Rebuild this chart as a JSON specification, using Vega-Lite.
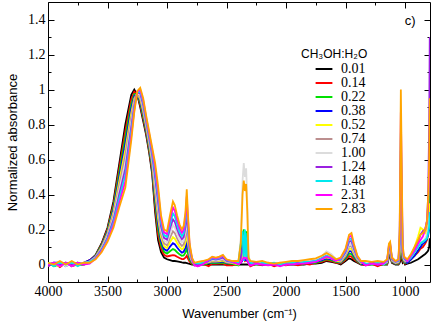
{
"$schema": "https://vega.github.io/schema/vega-lite/v6.json",
"width": 382, "height": 280,
"autosize": {"type": "none"},
"padding": {"left": 48, "top": 2, "right": 6, "bottom": 45},
"background": "white",
"title": {"text": "c)", "anchor": "end", "orient": "top", "offset": -26, "dx": -17, "font": "Liberation Sans", "fontSize": 13, "fontWeight": "normal", "color": "black"},
"data": {"values": [
{"w":4000,"a":0,"b":-0.01,"c":0.01,"d":0,"e":0.01,"f":0,"g":0.01,"h":-0.01,"i":0.01,"j":0,"k":0.01},
{"w":3950,"a":0,"b":0.01,"c":-0.01,"d":0.01,"e":0,"f":0.01,"g":0,"h":0.01,"i":-0.01,"j":0.01,"k":0},
{"w":3900,"a":0,"b":-0.015,"c":0,"d":0.01,"e":-0.01,"f":0,"g":0.01,"h":0,"i":0.01,"j":-0.01,"k":0.02},
{"w":3850,"a":0,"b":0.01,"c":0.01,"d":-0.01,"e":0.01,"f":0.01,"g":-0.01,"h":0.01,"i":0,"j":0.01,"k":0},
{"w":3800,"a":0,"b":-0.01,"c":0,"d":0.01,"e":0,"f":-0.01,"g":0.01,"h":0,"i":0.01,"j":-0.01,"k":0.02},
{"w":3750,"a":0,"b":0,"c":0.01,"d":0,"e":0.01,"f":0.01,"g":0,"h":0.01,"i":-0.01,"j":0.01,"k":0},
{"w":3700,"a":0,"b":0.01,"c":0,"d":0.01,"e":0,"f":0,"g":0.01,"h":0,"i":0.01,"j":0,"k":0.01},
{"w":3650,"a":0.02,"b":0.025,"c":0.02,"d":0.025,"e":0.015,"f":0.02,"g":0.015,"h":0.01,"i":0.015,"j":0.005,"k":0.01},
{"w":3600,"a":0.055,"b":0.052,"c":0.05,"d":0.048,"e":0.045,"f":0.043,"g":0.04,"h":0.038,"i":0.035,"j":0.033,"k":0.03},
{"w":3550,"a":0.12,"b":0.115,"c":0.11,"d":0.105,"e":0.1,"f":0.095,"g":0.09,"h":0.085,"i":0.08,"j":0.075,"k":0.07},
{"w":3500,"a":0.21,"b":0.202,"c":0.194,"d":0.186,"e":0.178,"f":0.17,"g":0.162,"h":0.154,"i":0.146,"j":0.138,"k":0.13},
{"w":3450,"a":0.36,"b":0.345,"c":0.33,"d":0.315,"e":0.3,"f":0.285,"g":0.27,"h":0.255,"i":0.24,"j":0.225,"k":0.21},
{"w":3400,"a":0.58,"b":0.555,"c":0.53,"d":0.505,"e":0.48,"f":0.455,"g":0.43,"h":0.405,"i":0.38,"j":0.355,"k":0.33},
{"w":3350,"a":0.8,"b":0.764,"c":0.728,"d":0.692,"e":0.656,"f":0.62,"g":0.584,"h":0.548,"i":0.512,"j":0.476,"k":0.44},
{"w":3300,"a":0.97,"b":0.944,"c":0.918,"d":0.892,"e":0.866,"f":0.84,"g":0.814,"h":0.788,"i":0.762,"j":0.736,"k":0.71},
{"w":3275,"a":1.0,"b":0.987,"c":0.974,"d":0.961,"e":0.948,"f":0.935,"g":0.922,"h":0.909,"i":0.896,"j":0.883,"k":0.87},
{"w":3250,"a":0.97,"b":0.972,"c":0.974,"d":0.976,"e":0.978,"f":0.98,"g":0.982,"h":0.984,"i":0.986,"j":0.988,"k":0.99},
{"w":3225,"a":0.9,"b":0.911,"c":0.922,"d":0.933,"e":0.944,"f":0.955,"g":0.966,"h":0.977,"i":0.988,"j":0.999,"k":1.01},
{"w":3200,"a":0.82,"b":0.833,"c":0.846,"d":0.859,"e":0.872,"f":0.885,"g":0.898,"h":0.911,"i":0.924,"j":0.937,"k":0.95},
{"w":3175,"a":0.74,"b":0.751,"c":0.762,"d":0.773,"e":0.784,"f":0.795,"g":0.806,"h":0.817,"i":0.828,"j":0.839,"k":0.85},
{"w":3150,"a":0.64,"b":0.652,"c":0.664,"d":0.676,"e":0.688,"f":0.7,"g":0.712,"h":0.724,"i":0.736,"j":0.748,"k":0.76},
{"w":3125,"a":0.52,"b":0.535,"c":0.55,"d":0.565,"e":0.58,"f":0.595,"g":0.61,"h":0.625,"i":0.64,"j":0.655,"k":0.67},
{"w":3100,"a":0.3,"b":0.328,"c":0.356,"d":0.384,"e":0.412,"f":0.44,"g":0.468,"h":0.496,"i":0.524,"j":0.552,"k":0.58},
{"w":3075,"a":0.14,"b":0.171,"c":0.202,"d":0.233,"e":0.264,"f":0.295,"g":0.326,"h":0.357,"i":0.388,"j":0.419,"k":0.45},
{"w":3050,"a":0.07,"b":0.091,"c":0.112,"d":0.133,"e":0.154,"f":0.175,"g":0.196,"h":0.217,"i":0.238,"j":0.259,"k":0.28},
{"w":3025,"a":0.04,"b":0.056,"c":0.072,"d":0.088,"e":0.104,"f":0.12,"g":0.136,"h":0.152,"i":0.168,"j":0.184,"k":0.2},
{"w":3000,"a":0.03,"b":0.046,"c":0.062,"d":0.078,"e":0.094,"f":0.11,"g":0.126,"h":0.142,"i":0.158,"j":0.174,"k":0.19},
{"w":2975,"a":0.025,"b":0.05,"c":0.076,"d":0.102,"e":0.127,"f":0.152,"g":0.178,"h":0.204,"i":0.229,"j":0.254,"k":0.28},
{"w":2950,"a":0.02,"b":0.054,"c":0.088,"d":0.122,"e":0.156,"f":0.19,"g":0.224,"h":0.258,"i":0.292,"j":0.326,"k":0.36},
{"w":2935,"a":0.02,"b":0.052,"c":0.084,"d":0.116,"e":0.148,"f":0.18,"g":0.212,"h":0.244,"i":0.276,"j":0.308,"k":0.34},
{"w":2915,"a":0.018,"b":0.044,"c":0.07,"d":0.097,"e":0.123,"f":0.149,"g":0.175,"h":0.201,"i":0.228,"j":0.254,"k":0.28},
{"w":2895,"a":0.015,"b":0.037,"c":0.058,"d":0.08,"e":0.101,"f":0.123,"g":0.144,"h":0.166,"i":0.187,"j":0.209,"k":0.23},
{"w":2875,"a":0.012,"b":0.031,"c":0.05,"d":0.068,"e":0.087,"f":0.106,"g":0.125,"h":0.144,"i":0.162,"j":0.181,"k":0.2},
{"w":2860,"a":0.01,"b":0.031,"c":0.052,"d":0.073,"e":0.094,"f":0.115,"g":0.136,"h":0.157,"i":0.178,"j":0.199,"k":0.22},
{"w":2845,"a":0.01,"b":0.039,"c":0.068,"d":0.097,"e":0.126,"f":0.155,"g":0.184,"h":0.213,"i":0.242,"j":0.271,"k":0.3},
{"w":2834,"a":0.008,"b":0.05,"c":0.092,"d":0.135,"e":0.177,"f":0.219,"g":0.261,"h":0.303,"i":0.346,"j":0.388,"k":0.43},
{"w":2825,"a":0.006,"b":0.035,"c":0.065,"d":0.094,"e":0.124,"f":0.153,"g":0.182,"h":0.212,"i":0.241,"j":0.271,"k":0.3},
{"w":2810,"a":0.004,"b":0.016,"c":0.027,"d":0.039,"e":0.05,"f":0.062,"g":0.074,"h":0.085,"i":0.097,"j":0.108,"k":0.12},
{"w":2790,"a":0,"b":0.004,"c":0.008,"d":0.012,"e":0.016,"f":0.02,"g":0.024,"h":0.028,"i":0.032,"j":0.036,"k":0.04},
{"w":2770,"a":0,"b":0.005,"c":-0.005,"d":0.01,"e":0,"f":0.005,"g":0.01,"h":0,"i":0.01,"j":-0.005,"k":0.01},
{"w":2740,"a":0,"b":-0.01,"c":0.01,"d":0,"e":0.01,"f":0.005,"g":0.01,"h":0,"i":0.005,"j":-0.01,"k":0.015},
{"w":2700,"a":0,"b":0.005,"c":0,"d":0.005,"e":0.005,"f":0.01,"g":0.015,"h":0.005,"i":0.01,"j":0,"k":0.02},
{"w":2650,"a":0,"b":-0.01,"c":0.006,"d":0.009,"e":0.012,"f":0.015,"g":0.018,"h":0.021,"i":0.024,"j":0.027,"k":0.03},
{"w":2620,"a":0,"b":0.005,"c":0.009,"d":0.014,"e":0.018,"f":0.023,"g":0.027,"h":0.032,"i":0.036,"j":0.041,"k":0.045},
{"w":2590,"a":0,"b":0.004,"c":0.008,"d":0.012,"e":0.016,"f":0.02,"g":0.024,"h":0.028,"i":0.032,"j":0.036,"k":0.04},
{"w":2560,"a":0,"b":0.005,"c":0.009,"d":0.014,"e":0.018,"f":0.023,"g":0.027,"h":0.032,"i":0.036,"j":0.041,"k":0.045},
{"w":2530,"a":0,"b":0.006,"c":0.011,"d":0.017,"e":0.022,"f":0.028,"g":0.033,"h":0.039,"i":0.05,"j":0.05,"k":0.055},
{"w":2500,"a":0,"b":-0.005,"c":0.006,"d":0.009,"e":0.012,"f":0.015,"g":0.018,"h":0.021,"i":0.024,"j":0.027,"k":0.03},
{"w":2450,"a":0,"b":-0.005,"c":0.004,"d":0.006,"e":0.008,"f":0.01,"g":0.012,"h":0.014,"i":0.016,"j":0.018,"k":0.02},
{"w":2400,"a":0,"b":0.005,"c":-0.005,"d":0.01,"e":0,"f":0.01,"g":0.015,"h":0.005,"i":0.01,"j":0,"k":0.02},
{"w":2380,"a":0,"b":0.01,"c":0.05,"d":0.01,"e":0.02,"f":0.03,"g":0.15,"h":0.04,"i":0.12,"j":0.01,"k":0.12},
{"w":2365,"a":0,"b":0.025,"c":0.16,"d":0.025,"e":0.05,"f":0.08,"g":0.48,"h":0.1,"i":0.19,"j":0.03,"k":0.4},
{"w":2355,"a":0,"b":0.03,"c":0.2,"d":0.03,"e":0.06,"f":0.1,"g":0.58,"h":0.12,"i":0.02,"j":0.04,"k":0.48},
{"w":2345,"a":0,"b":0.02,"c":0.17,"d":0.025,"e":0.05,"f":0.085,"g":0.5,"h":0.1,"i":0.2,"j":0.035,"k":0.42},
{"w":2335,"a":0,"b":0.028,"c":0.19,"d":0.028,"e":0.055,"f":0.095,"g":0.55,"h":0.11,"i":0.03,"j":0.038,"k":0.46},
{"w":2325,"a":0,"b":0.02,"c":0.12,"d":0.02,"e":0.035,"f":0.06,"g":0.35,"h":0.07,"i":0.18,"j":0.025,"k":0.3},
{"w":2315,"a":0,"b":0.01,"c":0.02,"d":0.01,"e":0.01,"f":0.01,"g":0.05,"h":0.01,"i":0.02,"j":0.005,"k":0.04},
{"w":2300,"a":0,"b":-0.01,"c":0.005,"d":0.005,"e":0.01,"f":0,"g":0.01,"h":0.005,"i":0.01,"j":-0.005,"k":0.02},
{"w":2250,"a":0,"b":0.005,"c":0,"d":0.01,"e":0,"f":0.01,"g":0.005,"h":0.01,"i":0,"j":0.005,"k":0.015},
{"w":2200,"a":0,"b":-0.005,"c":0.01,"d":0,"e":0.01,"f":0.005,"g":0.01,"h":0,"i":0.01,"j":0,"k":0.02},
{"w":2150,"a":0,"b":0.005,"c":0,"d":0.005,"e":0,"f":0.01,"g":0,"h":0.005,"i":0.005,"j":-0.005,"k":0.01},
{"w":2100,"a":0,"b":-0.01,"c":0.005,"d":0,"e":0.005,"f":0,"g":0.005,"h":0,"i":0.01,"j":0,"k":0.005},
{"w":2050,"a":0,"b":0,"c":-0.005,"d":0.005,"e":0,"f":0.005,"g":0.01,"h":0,"i":0,"j":-0.01,"k":0.01},
{"w":2000,"a":0,"b":-0.005,"c":0.005,"d":0,"e":0.01,"f":0.005,"g":0,"h":0.005,"i":0.01,"j":0,"k":0.015},
{"w":1950,"a":0,"b":0.005,"c":0,"d":0.01,"e":0.005,"f":0.01,"g":0.01,"h":0.005,"i":0.01,"j":0,"k":0.02},
{"w":1900,"a":0,"b":-0.005,"c":0.01,"d":0.005,"e":0.01,"f":0.01,"g":0.015,"h":0.01,"i":0.005,"j":0.005,"k":0.02},
{"w":1850,"a":0,"b":0.005,"c":0.005,"d":0.01,"e":0.01,"f":0.015,"g":0.015,"h":0.01,"i":0.015,"j":0.005,"k":0.025},
{"w":1800,"a":0.005,"b":0,"c":0.01,"d":0.01,"e":0.015,"f":0.02,"g":0.02,"h":0.015,"i":0.015,"j":0.01,"k":0.03},
{"w":1750,"a":0.005,"b":0.01,"c":0.01,"d":0.015,"e":0.02,"f":0.025,"g":0.025,"h":0.02,"i":0.02,"j":0.015,"k":0.035},
{"w":1700,"a":0.01,"b":0.015,"c":0.02,"d":0.025,"e":0.03,"f":0.045,"g":0.045,"h":0.035,"i":0.035,"j":0.03,"k":0.05},
{"w":1660,"a":0.02,"b":0.025,"c":0.03,"d":0.035,"e":0.04,"f":0.07,"g":0.075,"h":0.05,"i":0.05,"j":0.045,"k":0.065},
{"w":1620,"a":0.015,"b":0.02,"c":0.025,"d":0.03,"e":0.035,"f":0.055,"g":0.06,"h":0.04,"i":0.04,"j":0.035,"k":0.05},
{"w":1580,"a":0.01,"b":0.01,"c":0.015,"d":0.02,"e":0.02,"f":0.03,"g":0.03,"h":0.025,"i":0.025,"j":0.02,"k":0.03},
{"w":1540,"a":0,"b":0.005,"c":0.01,"d":0.012,"e":0.016,"f":0.02,"g":0.024,"h":0.028,"i":0.032,"j":0.036,"k":0.04},
{"w":1500,"a":0.02,"b":0.027,"c":0.034,"d":0.041,"e":0.048,"f":0.055,"g":0.062,"h":0.069,"i":0.076,"j":0.083,"k":0.09},
{"w":1470,"a":0.035,"b":0.049,"c":0.062,"d":0.076,"e":0.089,"f":0.103,"g":0.116,"h":0.13,"i":0.143,"j":0.157,"k":0.17},
{"w":1450,"a":0.03,"b":0.045,"c":0.06,"d":0.075,"e":0.09,"f":0.105,"g":0.12,"h":0.135,"i":0.15,"j":0.165,"k":0.18},
{"w":1430,"a":0.02,"b":0.03,"c":0.04,"d":0.05,"e":0.06,"f":0.07,"g":0.08,"h":0.09,"i":0.1,"j":0.11,"k":0.12},
{"w":1400,"a":0.01,"b":0.014,"c":0.018,"d":0.022,"e":0.026,"f":0.03,"g":0.034,"h":0.038,"i":0.042,"j":0.046,"k":0.05},
{"w":1370,"a":0,"b":0.002,"c":0.004,"d":0.006,"e":0.008,"f":0.01,"g":0.012,"h":0.014,"i":0.016,"j":0.018,"k":0.02},
{"w":1330,"a":0,"b":-0.005,"c":0.005,"d":0,"e":0.01,"f":0.005,"g":0.01,"h":0,"i":0.005,"j":-0.005,"k":0.02},
{"w":1280,"a":0,"b":0.005,"c":0,"d":0.01,"e":0,"f":0.01,"g":0.005,"h":0.01,"i":0,"j":0.005,"k":0.015},
{"w":1230,"a":0,"b":-0.01,"c":0.005,"d":0,"e":0.005,"f":0,"g":0.01,"h":0.005,"i":0.01,"j":0,"k":0.02},
{"w":1180,"a":0,"b":0.005,"c":0,"d":0.005,"e":0.01,"f":0.005,"g":0,"h":0.01,"i":0,"j":0.005,"k":0.015},
{"w":1150,"a":0,"b":0.003,"c":0.006,"d":0.009,"e":0.012,"f":0.015,"g":0.018,"h":0.021,"i":0.024,"j":0.027,"k":0.03},
{"w":1135,"a":0.04,"b":0.048,"c":0.056,"d":0.064,"e":0.072,"f":0.08,"g":0.088,"h":0.096,"i":0.104,"j":0.112,"k":0.12},
{"w":1125,"a":0.05,"b":0.058,"c":0.066,"d":0.074,"e":0.082,"f":0.09,"g":0.098,"h":0.106,"i":0.114,"j":0.122,"k":0.13},
{"w":1110,"a":0.01,"b":0.013,"c":0.016,"d":0.019,"e":0.022,"f":0.025,"g":0.028,"h":0.031,"i":0.034,"j":0.037,"k":0.04},
{"w":1080,"a":0,"b":0.002,"c":0.004,"d":0.006,"e":0.008,"f":0.01,"g":0.012,"h":0.014,"i":0.016,"j":0.018,"k":0.02},
{"w":1055,"a":0,"b":0.003,"c":0.006,"d":0.009,"e":0.012,"f":0.015,"g":0.018,"h":0.021,"i":0.024,"j":0.027,"k":0.03},
{"w":1045,"a":0.01,"b":0.02,"c":0.03,"d":0.05,"e":0.06,"f":0.08,"g":0.1,"h":0.12,"i":0.14,"j":0.17,"k":0.2},
{"w":1035,"a":0.03,"b":0.08,"c":0.14,"d":0.26,"e":0.35,"f":0.45,"g":0.55,"h":0.65,"i":0.75,"j":0.87,"k":1.0},
{"w":1028,"a":0.03,"b":0.05,"c":0.09,"d":0.16,"e":0.21,"f":0.27,"g":0.33,"h":0.39,"i":0.45,"j":0.52,"k":0.6},
{"w":1020,"a":0.01,"b":0.02,"c":0.03,"d":0.04,"e":0.05,"f":0.06,"g":0.07,"h":0.08,"i":0.09,"j":0.1,"k":0.12},
{"w":1010,"a":0.02,"b":0.01,"c":0.015,"d":0.02,"e":0.025,"f":0.03,"g":0.035,"h":0.04,"i":0.04,"j":0.045,"k":0.05},
{"w":1000,"a":0,"b":0.004,"c":0.008,"d":0.012,"e":0.016,"f":0.02,"g":0.024,"h":0.028,"i":0.032,"j":0.036,"k":0.04},
{"w":980,"a":0.005,"b":0.01,"c":0.01,"d":0.01,"e":0.02,"f":0.02,"g":0.02,"h":0.02,"i":0.02,"j":0.02,"k":0.03},
{"w":950,"a":0.01,"b":0.03,"c":0.03,"d":0.03,"e":0.05,"f":0.04,"g":0.04,"h":0.05,"i":0.04,"j":0.05,"k":0.06},
{"w":920,"a":0.02,"b":0.05,"c":0.05,"d":0.05,"e":0.1,"f":0.07,"g":0.07,"h":0.09,"i":0.07,"j":0.08,"k":0.1},
{"w":890,"a":0.03,"b":0.07,"c":0.08,"d":0.08,"e":0.16,"f":0.1,"g":0.1,"h":0.13,"i":0.1,"j":0.12,"k":0.14},
{"w":870,"a":0.04,"b":0.09,"c":0.1,"d":0.1,"e":0.21,"f":0.12,"g":0.12,"h":0.17,"i":0.12,"j":0.14,"k":0.17},
{"w":850,"a":0.05,"b":0.1,"c":0.12,"d":0.12,"e":0.2,"f":0.13,"g":0.13,"h":0.19,"i":0.13,"j":0.16,"k":0.18},
{"w":830,"a":0.06,"b":0.12,"c":0.13,"d":0.13,"e":0.18,"f":0.14,"g":0.15,"h":0.2,"i":0.14,"j":0.2,"k":0.2},
{"w":815,"a":0.07,"b":0.14,"c":0.15,"d":0.15,"e":0.2,"f":0.16,"g":0.17,"h":0.25,"i":0.15,"j":0.25,"k":0.25},
{"w":805,"a":0.08,"b":0.18,"c":0.2,"d":0.17,"e":0.22,"f":0.2,"g":0.2,"h":0.4,"i":0.18,"j":0.35,"k":0.4},
{"w":797,"a":0.1,"b":0.3,"c":0.3,"d":0.2,"e":0.28,"f":0.25,"g":0.25,"h":0.8,"i":0.22,"j":0.5,"k":0.6},
{"w":792,"a":0.15,"b":0.55,"c":0.47,"d":0.25,"e":0.35,"f":0.3,"g":0.3,"h":1.3,"i":0.3,"j":0.6,"k":0.95}
]},
"transform": [{"fold": ["a","b","c","d","e","f","g","h","i","j","k"], "as": ["s","A"]}],
"layer": [
{"mark": {"type": "line", "strokeWidth": 1.8, "clip": true},
 "encoding": {
  "x": {"field": "w", "type": "quantitative", "scale": {"domain": [4000, 790], "nice": false, "zero": false},
   "axis": {"orient": "bottom", "title": "Wavenumber (cm⁻¹)", "values": [4000,3750,3500,3250,3000,2750,2500,2250,2000,1750,1500,1250,1000],
    "labelExpr": "datum.value % 500 === 0 ? '' + datum.value : ''", "labelFlush": false, "labelOverlap": false,
    "tickSize": {"condition": {"test": "datum.value % 500 === 0", "value": -6}, "value": -3},
    "labelPadding": 8, "titlePadding": 6}},
  "y": {"field": "A", "type": "quantitative", "scale": {"domain": [-0.1, 1.5], "nice": false, "zero": false},
   "axis": {"orient": "left", "title": "Normalized absorbance", "values": [0,0.1,0.2,0.3,0.4,0.5,0.6,0.7,0.8,0.9,1,1.1,1.2,1.3,1.4],
    "labelExpr": "round(datum.value * 10) % 2 === 0 ? '' + datum.value : ''", "labelOverlap": false,
    "tickSize": {"condition": {"test": "round(datum.value * 10) % 2 === 0", "value": -6}, "value": -3},
    "labelPadding": 9, "titlePadding": 8}},
  "color": {"field": "s", "type": "nominal",
   "scale": {"domain": ["a","b","c","d","e","f","g","h","i","j","k"],
    "range": ["#000000","#ff0000","#00e000","#0000ff","#ffff00","#bc8f8f","#dcdcdc","#9a20e0","#00e8ee","#ff00ff","#ffa500"]},
   "legend": {"title": "CH₃OH:H₂O", "orient": "none", "legendX": 253, "legendY": 47,
    "labelExpr": "{'a':'0.01','b':'0.14','c':'0.22','d':'0.38','e':'0.52','f':'0.74','g':'1.00','h':'1.24','i':'1.48','j':'2.31','k':'2.83'}[datum.value]",
    "symbolType": "M-1.4,0H1.4", "symbolSize": 144, "symbolStrokeWidth": 2, "symbolOffset": 16, "labelOffset": 10}}
 }},
{"mark": {"type": "point", "opacity": 0},
 "encoding": {
  "x": {"field": "w", "type": "quantitative", "scale": {"domain": [4000, 790], "nice": false, "zero": false},
   "axis": {"orient": "top", "title": null, "labels": false, "values": [4000,3750,3500,3250,3000,2750,2500,2250,2000,1750,1500,1250,1000],
    "tickSize": {"condition": {"test": "datum.value % 500 === 0", "value": -6}, "value": -3}}},
  "y": {"field": "A", "type": "quantitative", "scale": {"domain": [-0.1, 1.5], "nice": false, "zero": false},
   "axis": {"orient": "right", "title": null, "labels": false, "values": [0,0.1,0.2,0.3,0.4,0.5,0.6,0.7,0.8,0.9,1,1.1,1.2,1.3,1.4],
    "tickSize": {"condition": {"test": "round(datum.value * 10) % 2 === 0", "value": -6}, "value": -3}}}
 }}
],
"resolve": {"axis": {"x": "independent", "y": "independent"}},
"config": {
 "view": {"stroke": "black", "strokeWidth": 1},
 "axis": {"grid": false, "domain": false, "tickColor": "black", "tickWidth": 1, "labelFont": "Liberation Serif", "labelFontSize": 14, "labelColor": "black",
  "titleFont": "Liberation Sans", "titleFontSize": 13, "titleFontWeight": "normal", "titleColor": "black"},
 "legend": {"titleFont": "Liberation Sans", "titleFontSize": 12, "titleFontWeight": "normal", "titleColor": "black", "labelFont": "Liberation Serif", "labelFontSize": 14, "labelColor": "black", "padding": 0, "rowPadding": 0, "titlePadding": 1}
}
}
